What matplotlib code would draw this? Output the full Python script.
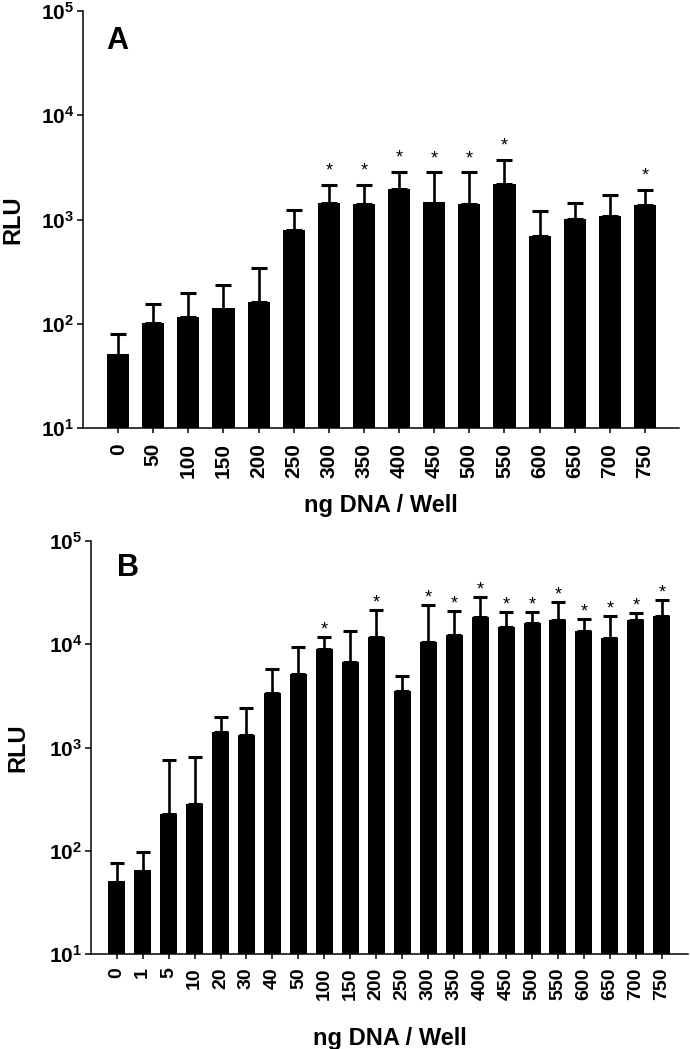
import numpy as np
import matplotlib
matplotlib.use("Agg")
import matplotlib.pyplot as plt

plt.rcParams["font.family"] = ["Liberation Sans", "DejaVu Sans"]
plt.rcParams["font.weight"] = "bold"
plt.rcParams["mathtext.fontset"] = "custom"
plt.rcParams["mathtext.rm"] = "Liberation Sans"
plt.rcParams["mathtext.bf"] = "Liberation Sans:bold"

# Panel A: 0-750 ng DNA / well
dose_a = ["0", "50", "100", "150", "200", "250", "300", "350",
          "400", "450", "500", "550", "600", "650", "700", "750"]
mean_a = [50, 102, 116, 140, 162, 785, 1440, 1420,
          1980, 1455, 1410, 2180, 692, 1007, 1069, 1371]
sd_a   = [30, 53, 81, 97, 182, 435, 690, 710,
          900, 1365, 1410, 1510, 502, 425, 641, 566]
sig_a  = [0, 0, 0, 0, 0, 0, 1, 1, 1, 1, 1, 1, 0, 0, 0, 1]

# Panel B: 0-750 ng DNA / well, finer low range
dose_b = ["0", "1", "5", "10", "20", "30", "40", "50", "100", "150", "200",
          "250", "300", "350", "400", "450", "500", "550", "600", "650",
          "700", "750"]
mean_b = [50, 64, 228, 283, 1410, 1327, 3365, 5165, 8960, 6810, 11800,
          3516, 10470, 12250, 18300, 14700, 16100, 17220, 13400, 11460,
          17100, 18970]
sd_b   = [26, 33, 532, 535, 585, 1078, 2375, 4205, 2920, 6770, 9900,
          1464, 13430, 8750, 10650, 5760, 4360, 8330, 4220, 7240,
          2900, 8130]
sig_b  = [0, 0, 0, 0, 0, 0, 0, 0, 1, 0, 1,
          0, 1, 1, 1, 1, 1, 1, 1, 1, 1, 1]

ytick_vals = [1e1, 1e2, 1e3, 1e4, 1e5]
ytick_labels = [r"$\mathbf{10^{1}}$", r"$\mathbf{10^{2}}$", r"$\mathbf{10^{3}}$",
                r"$\mathbf{10^{4}}$", r"$\mathbf{10^{5}}$"]


def draw_panel(ax, doses, means, sds, sig, letter, width, xlim, capsize,
               star_off, xfs, ylab_x, xlab_y, letter_xy, xpad):
    x = np.arange(len(doses))
    means = np.array(means, dtype=float)
    sds = np.array(sds, dtype=float)
    ax.set_yscale("log")
    ax.bar(x, means, width=width, bottom=1, color="black", zorder=2)
    ax.errorbar(x, means, yerr=[np.zeros_like(sds), sds], fmt="none",
                ecolor="black", elinewidth=1.9, capsize=capsize,
                capthick=2.2, zorder=3)
    for xi, m, s, flag in zip(x, means, sds, sig):
        if flag:
            ax.annotate("*", (xi, m + s), xytext=(0, star_off),
                        textcoords="offset points", ha="center", va="center",
                        fontsize=13, fontweight="normal")
    ax.set_ylim(10, 1e5)
    ax.set_xlim(*xlim)
    ax.set_yticks(ytick_vals)
    ax.set_yticklabels(ytick_labels)
    ax.minorticks_off()
    ax.set_xticks(x)
    ax.set_xticklabels(doses, rotation=90, fontsize=xfs, fontweight="bold")
    ax.tick_params(axis="y", labelsize=15, length=4.3, width=1.1, pad=2)
    ax.tick_params(axis="x", length=3.6, width=1.1, pad=xpad)
    for side in ["top", "right"]:
        ax.spines[side].set_visible(False)
    for side in ["left", "bottom"]:
        ax.spines[side].set_linewidth(1.1)
    ax.set_ylabel("RLU", fontsize=17, fontweight="bold")
    ax.yaxis.set_label_coords(ylab_x, 0.5)
    ax.set_xlabel("ng DNA / Well", fontsize=17, fontweight="bold")
    ax.xaxis.set_label_coords(0.5, xlab_y)
    ax.text(letter_xy[0], letter_xy[1], letter, transform=ax.transAxes,
            ha="center", va="center", fontsize=22, fontweight="bold")


fig = plt.figure(figsize=(6.9, 10.49), dpi=100)
ax_a = fig.add_axes([0.1203, 0.5917, 0.8638, 0.3981])
ax_b = fig.add_axes([0.1319, 0.0903, 0.8652, 0.3940])

draw_panel(ax_a, dose_a, mean_a, sd_a, sig_a, "A", 0.63, (-1.0, 15.97),
           5.5, 10, 15, -0.099, -0.158, (0.057, 0.927), 7)
draw_panel(ax_b, dose_b, mean_b, sd_b, sig_b, "B", 0.655, (-0.99, 22.01),
           5.0, 5, 14, -0.104, -0.176, (0.062, 0.935), 6)

fig.savefig("out.png", dpi=100)
